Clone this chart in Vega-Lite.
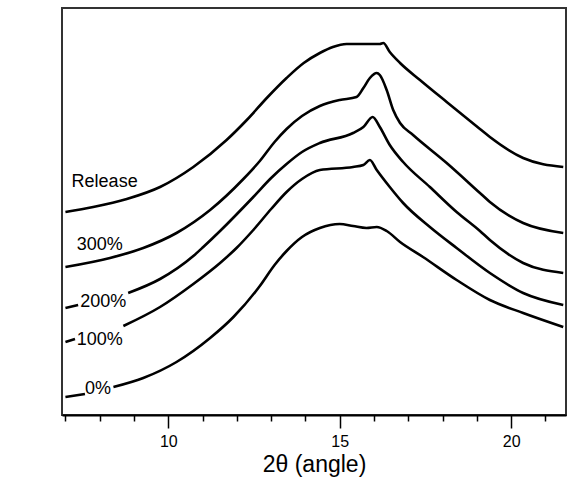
{
  "$schema": "https://vega.github.io/schema/vega-lite/v6.json",
  "width": 504,
  "height": 407,
  "autosize": "none",
  "padding": {"left": 62, "top": 8, "right": 10, "bottom": 76},
  "background": "white",
  "config": {
    "view": {"stroke": "#333333", "strokeWidth": 2},
    "font": "Liberation Sans"
  },
  "datasets": {
    "curves": [
      {"s": "Release", "seg": "a", "x": 7.0, "y": 203},
      {"s": "Release", "seg": "a", "x": 7.81, "y": 208},
      {"s": "Release", "seg": "a", "x": 8.79, "y": 216},
      {"s": "Release", "seg": "a", "x": 9.76, "y": 228},
      {"s": "Release", "seg": "a", "x": 10.73, "y": 248},
      {"s": "Release", "seg": "a", "x": 11.7, "y": 275},
      {"s": "Release", "seg": "a", "x": 12.29, "y": 295},
      {"s": "Release", "seg": "a", "x": 12.9, "y": 318},
      {"s": "Release", "seg": "a", "x": 13.45, "y": 337},
      {"s": "Release", "seg": "a", "x": 13.95, "y": 352},
      {"s": "Release", "seg": "a", "x": 14.42, "y": 362},
      {"s": "Release", "seg": "a", "x": 14.8, "y": 368},
      {"s": "Release", "seg": "a", "x": 15.2, "y": 371},
      {"s": "Release", "seg": "a", "x": 15.7, "y": 371},
      {"s": "Release", "seg": "a", "x": 16.17, "y": 371},
      {"s": "Release", "seg": "a", "x": 16.27, "y": 372},
      {"s": "Release", "seg": "a", "x": 16.46, "y": 363},
      {"s": "Release", "seg": "a", "x": 16.76, "y": 352},
      {"s": "Release", "seg": "a", "x": 17.34, "y": 335},
      {"s": "Release", "seg": "a", "x": 18.12, "y": 313},
      {"s": "Release", "seg": "a", "x": 19.09, "y": 286},
      {"s": "Release", "seg": "a", "x": 19.38, "y": 278},
      {"s": "Release", "seg": "a", "x": 20.35, "y": 257},
      {"s": "Release", "seg": "a", "x": 21.52, "y": 248},

      {"s": "300%", "seg": "a", "x": 7.0, "y": 148},
      {"s": "300%", "seg": "a", "x": 8.3, "y": 157},
      {"s": "300%", "seg": "a", "x": 9.27, "y": 167},
      {"s": "300%", "seg": "a", "x": 10.24, "y": 182},
      {"s": "300%", "seg": "a", "x": 11.22, "y": 205},
      {"s": "300%", "seg": "a", "x": 12.19, "y": 236},
      {"s": "300%", "seg": "a", "x": 12.67, "y": 254},
      {"s": "300%", "seg": "a", "x": 13.1, "y": 273},
      {"s": "300%", "seg": "a", "x": 13.45, "y": 286},
      {"s": "300%", "seg": "a", "x": 13.9, "y": 299},
      {"s": "300%", "seg": "a", "x": 14.42, "y": 309},
      {"s": "300%", "seg": "a", "x": 15.0, "y": 315},
      {"s": "300%", "seg": "a", "x": 15.49, "y": 318},
      {"s": "300%", "seg": "a", "x": 15.69, "y": 327},
      {"s": "300%", "seg": "a", "x": 15.88, "y": 337},
      {"s": "300%", "seg": "a", "x": 16.08, "y": 342},
      {"s": "300%", "seg": "a", "x": 16.17, "y": 340},
      {"s": "300%", "seg": "a", "x": 16.37, "y": 325},
      {"s": "300%", "seg": "a", "x": 16.56, "y": 305},
      {"s": "300%", "seg": "a", "x": 16.76, "y": 292},
      {"s": "300%", "seg": "a", "x": 17.14, "y": 280},
      {"s": "300%", "seg": "a", "x": 18.12, "y": 252},
      {"s": "300%", "seg": "a", "x": 19.09, "y": 222},
      {"s": "300%", "seg": "a", "x": 19.38, "y": 213},
      {"s": "300%", "seg": "a", "x": 20.35, "y": 192},
      {"s": "300%", "seg": "a", "x": 21.52, "y": 182},

      {"s": "200%", "seg": "a", "x": 7.0, "y": 107},
      {"s": "200%", "seg": "a", "x": 7.37, "y": 110},
      {"s": "200%", "seg": "b", "x": 8.83, "y": 122},
      {"s": "200%", "seg": "b", "x": 9.76, "y": 136},
      {"s": "200%", "seg": "b", "x": 10.73, "y": 159},
      {"s": "200%", "seg": "b", "x": 11.02, "y": 168},
      {"s": "200%", "seg": "b", "x": 11.51, "y": 184},
      {"s": "200%", "seg": "b", "x": 12.48, "y": 218},
      {"s": "200%", "seg": "b", "x": 13.0, "y": 237},
      {"s": "200%", "seg": "b", "x": 13.45, "y": 251},
      {"s": "200%", "seg": "b", "x": 13.9, "y": 263},
      {"s": "200%", "seg": "b", "x": 14.42, "y": 272},
      {"s": "200%", "seg": "b", "x": 15.39, "y": 282},
      {"s": "200%", "seg": "b", "x": 15.69, "y": 288},
      {"s": "200%", "seg": "b", "x": 15.96, "y": 298},
      {"s": "200%", "seg": "b", "x": 16.17, "y": 288},
      {"s": "200%", "seg": "b", "x": 16.46, "y": 270},
      {"s": "200%", "seg": "b", "x": 16.85, "y": 253},
      {"s": "200%", "seg": "b", "x": 17.63, "y": 228},
      {"s": "200%", "seg": "b", "x": 18.41, "y": 203},
      {"s": "200%", "seg": "b", "x": 19.09, "y": 184},
      {"s": "200%", "seg": "b", "x": 19.38, "y": 175},
      {"s": "200%", "seg": "b", "x": 20.35, "y": 152},
      {"s": "200%", "seg": "b", "x": 21.52, "y": 142},

      {"s": "100%", "seg": "a", "x": 7.0, "y": 73},
      {"s": "100%", "seg": "a", "x": 7.28, "y": 76},
      {"s": "100%", "seg": "b", "x": 8.69, "y": 89},
      {"s": "100%", "seg": "b", "x": 9.76, "y": 108},
      {"s": "100%", "seg": "b", "x": 10.73, "y": 131},
      {"s": "100%", "seg": "b", "x": 11.51, "y": 152},
      {"s": "100%", "seg": "b", "x": 11.99, "y": 167},
      {"s": "100%", "seg": "b", "x": 12.48, "y": 185},
      {"s": "100%", "seg": "b", "x": 13.0, "y": 206},
      {"s": "100%", "seg": "b", "x": 13.45, "y": 223},
      {"s": "100%", "seg": "b", "x": 13.9, "y": 236},
      {"s": "100%", "seg": "b", "x": 14.42, "y": 245},
      {"s": "100%", "seg": "b", "x": 15.39, "y": 248},
      {"s": "100%", "seg": "b", "x": 15.69, "y": 250},
      {"s": "100%", "seg": "b", "x": 15.88, "y": 255},
      {"s": "100%", "seg": "b", "x": 16.08, "y": 245},
      {"s": "100%", "seg": "b", "x": 16.46, "y": 228},
      {"s": "100%", "seg": "b", "x": 16.85, "y": 212},
      {"s": "100%", "seg": "b", "x": 17.63, "y": 188},
      {"s": "100%", "seg": "b", "x": 18.41, "y": 167},
      {"s": "100%", "seg": "b", "x": 19.38, "y": 142},
      {"s": "100%", "seg": "b", "x": 20.35, "y": 122},
      {"s": "100%", "seg": "b", "x": 21.52, "y": 110},

      {"s": "0%", "seg": "a", "x": 7.0, "y": 18},
      {"s": "0%", "seg": "a", "x": 7.57, "y": 21},
      {"s": "0%", "seg": "b", "x": 8.4, "y": 28},
      {"s": "0%", "seg": "b", "x": 9.27, "y": 37},
      {"s": "0%", "seg": "b", "x": 10.24, "y": 53},
      {"s": "0%", "seg": "b", "x": 11.22, "y": 77},
      {"s": "0%", "seg": "b", "x": 11.9, "y": 98},
      {"s": "0%", "seg": "b", "x": 12.67, "y": 129},
      {"s": "0%", "seg": "b", "x": 13.1, "y": 150},
      {"s": "0%", "seg": "b", "x": 13.45, "y": 164},
      {"s": "0%", "seg": "b", "x": 13.9, "y": 178},
      {"s": "0%", "seg": "b", "x": 14.42, "y": 187},
      {"s": "0%", "seg": "b", "x": 15.0, "y": 191},
      {"s": "0%", "seg": "b", "x": 15.39, "y": 189},
      {"s": "0%", "seg": "b", "x": 15.78, "y": 187},
      {"s": "0%", "seg": "b", "x": 16.08, "y": 188},
      {"s": "0%", "seg": "b", "x": 16.37, "y": 184},
      {"s": "0%", "seg": "b", "x": 16.76, "y": 173},
      {"s": "0%", "seg": "b", "x": 17.43, "y": 158},
      {"s": "0%", "seg": "b", "x": 18.41, "y": 135},
      {"s": "0%", "seg": "b", "x": 19.38, "y": 115},
      {"s": "0%", "seg": "b", "x": 20.35, "y": 102},
      {"s": "0%", "seg": "b", "x": 21.52, "y": 88}
    ],
    "labels": [
      {"label": "Release", "x": 7.18, "y": 233},
      {"label": "300%", "x": 7.33, "y": 170},
      {"label": "200%", "x": 7.43, "y": 113},
      {"label": "100%", "x": 7.33, "y": 75},
      {"label": "0%", "x": 7.57, "y": 26}
    ]
  },
  "resolve": {"axis": {"x": "independent"}},
  "layer": [
    {
      "data": {"name": "curves"},
      "mark": {"type": "line", "color": "black", "strokeWidth": 2.6, "interpolate": "monotone"},
      "encoding": {
        "x": {
          "field": "x", "type": "quantitative",
          "scale": {"domain": [6.9, 21.6], "nice": false, "zero": false},
          "axis": {
            "orient": "bottom",
            "title": "2θ (angle)",
            "titleFontSize": 23, "titleFontWeight": "normal", "titleColor": "black",
            "titlePadding": 4,
            "values": [10, 15, 20],
            "labelOverlap": false,
            "labelFontSize": 16, "labelColor": "black", "labelPadding": 5,
            "tickSize": 13, "tickColor": "black", "tickWidth": 1.5,
            "domainColor": "black", "domainWidth": 2,
            "grid": false
          }
        },
        "y": {
          "field": "y", "type": "quantitative",
          "scale": {"domain": [0, 407], "nice": false},
          "axis": {
            "title": "Intensity (a.u.)",
            "titleFontSize": 22, "titleFontWeight": "normal", "titleColor": "black",
            "titlePadding": 25,
            "labels": false, "ticks": false, "grid": false,
            "domainColor": "black", "domainWidth": 2
          }
        },
        "detail": [{"field": "s"}, {"field": "seg"}]
      }
    },
    {
      "data": {"name": "labels"},
      "mark": {"type": "text", "align": "left", "baseline": "middle", "fontSize": 18, "color": "black"},
      "encoding": {
        "x": {
          "field": "x", "type": "quantitative",
          "axis": {
            "orient": "bottom",
            "title": null,
            "values": [7, 8, 9, 11, 12, 13, 14, 16, 17, 18, 19, 21],
            "labels": false, "domain": false, "grid": false,
            "tickSize": 6, "tickColor": "black", "tickWidth": 1.5
          }
        },
        "y": {"field": "y", "type": "quantitative", "axis": null},
        "text": {"field": "label"}
      }
    }
  ]
}
